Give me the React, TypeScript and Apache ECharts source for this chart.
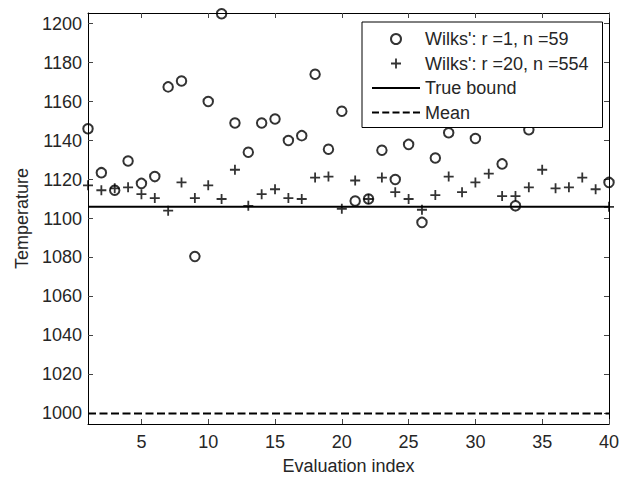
import React, { useEffect, useRef } from "react";
import * as echarts from "echarts";

// Evaluation index 1..40
const indices: number[] = Array.from({ length: 40 }, (_, i) => i + 1);

// Wilks' r=1, n=59 (circles); null = hidden behind legend in the original
const wilks1: (number | null)[] = [
  1146, 1123.5, 1114.5, 1129.5, 1118, 1121.5, 1167.5, 1170.5, 1080.5, 1160,
  1205, 1149, 1134, 1149, 1151, 1140, 1142.5, 1174, 1135.5, 1155,
  1109, 1110, 1135, 1120, 1138, 1098, 1131, 1144, null, 1141,
  null, 1128, 1106.5, 1145.5, null, null, null, null, 1151, 1118.5,
];

// Wilks' r=20, n=554 (plus)
const wilks20: number[] = [
  1117, 1114.5, 1115.5, 1116, 1112.5, 1110.5, 1104, 1118.5, 1110.5, 1117,
  1110, 1125, 1106.5, 1112.5, 1115, 1110.5, 1110, 1121, 1121.5, 1105,
  1119.5, 1110, 1121, 1113.5, 1110, 1104.5, 1112, 1121.5, 1113.5, 1118.5,
  1123, 1111.5, 1111.5, 1116, 1125, 1115.5, 1116, 1121, 1115, 1106,
];

const trueBound = 1106;
const meanValue = 1000;
const xRange = [1, 40];
const yRange = [994.6, 1205.4];
const xTicks = [5, 10, 15, 20, 25, 30, 35, 40];
const yTicks = [1000, 1020, 1040, 1060, 1080, 1100, 1120, 1140, 1160, 1180, 1200];

const seriesNames = [
  "Wilks': r =1, n =59",
  "Wilks': r =20, n =554",
  "True bound",
  "Mean",
];

const PLUS = "path://M4.1,0H5.9V4.1H10V5.9H5.9V10H4.1V5.9H0V4.1H4.1Z";
const SOLID_ICON = "path://M0,0H48V2H0Z";
const DASH_ICON =
  "path://M0,0H7V2H0Z M10.25,0H17.25V2H10.25Z M20.5,0H27.5V2H20.5Z M30.75,0H37.75V2H30.75Z M41,0H48V2H41Z";
const FONT = "Liberation Sans, Arial, Helvetica, sans-serif";
const TEXT = "#262626";

export default function App() {
  const ref = useRef<HTMLDivElement>(null);
  useEffect(() => {
    if (!ref.current) return;
    const chart = echarts.init(ref.current, undefined, { renderer: "svg" });
    const axisCommon = {
      type: "value" as const,
      axisLine: { show: true, onZero: false, lineStyle: { color: "#000", width: 1 } },
      splitLine: { show: false },
    };
    const plain = (v: number) => String(v);
    chart.setOption({
      animation: false,
      backgroundColor: "#fff",
      textStyle: { fontFamily: FONT, color: TEXT },
      grid: { left: 88, right: 7, top: 13, bottom: 50, containLabel: false },
      legend: {
        data: [
          { name: seriesNames[0] },
          { name: seriesNames[1] },
          { name: seriesNames[2], icon: SOLID_ICON },
          { name: seriesNames[3], icon: DASH_ICON },
        ],
        orient: "vertical",
        left: 362,
        top: 22,
        itemWidth: 48,
        itemHeight: 10,
        itemGap: 6.5,
        padding: [8, 14, 6, 10],
        borderColor: "#000",
        borderWidth: 1,
        borderRadius: 0,
        backgroundColor: "#fff",
        selectedMode: false,
        symbolKeepAspect: true,
        textStyle: { fontSize: 18, lineHeight: 18, color: TEXT, fontFamily: FONT },
      },
      xAxis: [
        {
          ...axisCommon,
          position: "bottom",
          min: xRange[0],
          max: xRange[1],
          name: "Evaluation index",
          nameLocation: "middle",
          nameGap: 33,
          nameTextStyle: { fontSize: 18, color: TEXT, fontFamily: FONT },
          axisTick: { show: true, inside: true, length: 5, customValues: xTicks, lineStyle: { color: "#444" } },
          axisLabel: { show: true, customValues: xTicks, margin: 9, fontSize: 18, color: TEXT, fontFamily: FONT, formatter: plain },
        },
        {
          ...axisCommon,
          position: "top",
          min: xRange[0],
          max: xRange[1],
          axisTick: { show: true, inside: true, length: 5, customValues: xTicks, lineStyle: { color: "#444" } },
          axisLabel: { show: false },
        },
      ],
      yAxis: [
        {
          ...axisCommon,
          position: "left",
          min: yRange[0],
          max: yRange[1],
          name: "Temperature",
          nameLocation: "middle",
          nameGap: 53,
          nameTextStyle: { fontSize: 18, color: TEXT, fontFamily: FONT },
          axisTick: { show: true, inside: true, length: 5, customValues: yTicks, lineStyle: { color: "#444" } },
          axisLabel: { show: true, customValues: yTicks, margin: 6, fontSize: 18, color: TEXT, fontFamily: FONT, formatter: plain },
        },
        {
          ...axisCommon,
          position: "right",
          min: yRange[0],
          max: yRange[1],
          axisTick: { show: true, inside: true, length: 5, customValues: yTicks, lineStyle: { color: "#444" } },
          axisLabel: { show: false },
        },
      ],
      series: [
        {
          name: seriesNames[2],
          type: "line",
          xAxisIndex: 0,
          yAxisIndex: 0,
          symbol: "none",
          showSymbol: false,
          data: xRange.map((x) => [x, trueBound]),
          lineStyle: { color: "#000", width: 2, type: "solid" },
          itemStyle: { color: "#000" },
          z: 2,
        },
        {
          name: seriesNames[3],
          type: "line",
          xAxisIndex: 0,
          yAxisIndex: 0,
          symbol: "none",
          showSymbol: false,
          data: xRange.map((x) => [x, meanValue]),
          lineStyle: { color: "#000", width: 2, type: [8, 3.5] },
          itemStyle: { color: "#000" },
          z: 2,
        },
        {
          name: seriesNames[0],
          type: "scatter",
          clip: false,
          symbol: "circle",
          symbolSize: 9.5,
          data: indices.map((x, i) => (wilks1[i] === null ? [x, "-"] : [x, wilks1[i]])),
          itemStyle: { color: "rgba(0,0,0,0)", borderColor: "#000", borderWidth: 2 },
          z: 3,
        },
        {
          name: seriesNames[1],
          type: "scatter",
          clip: false,
          symbol: PLUS,
          symbolSize: 10,
          data: indices.map((x, i) => [x, wilks20[i]]),
          itemStyle: { color: "#000" },
          z: 3,
        },
      ],
    });
    return () => chart.dispose();
  }, []);
  return (
    <div
      ref={ref}
      style={{ position: "fixed", left: 0, top: 0, width: 622, height: 480, background: "#fff" }}
    />
  );
}
